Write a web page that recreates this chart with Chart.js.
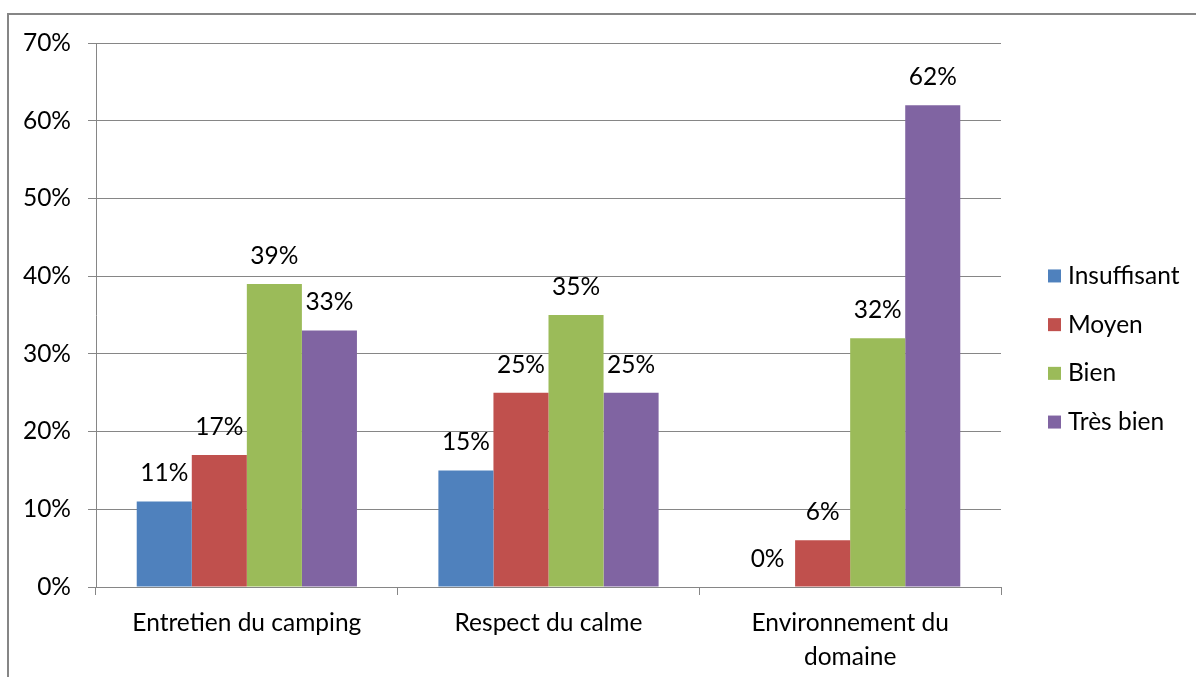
<!DOCTYPE html>
<html>
<head>
<meta charset="utf-8">
<script src="https://cdn.jsdelivr.net/npm/chart.js@4/dist/chart.umd.min.js"></script>
<style>
  html, body { margin: 0; padding: 0; background: #fff; }
  canvas { display: block; }
</style>
</head>
<body>
<canvas id="chart" width="1197" height="677"></canvas>
<script>
const categories = ["Entretien du camping", "Respect du calme", ["Environnement du", "domaine"]];
const series = ["Insuffisant", "Moyen", "Bien", "Très bien"];
const insuffisant = [11, 15, 0];
const moyen = [17, 25, 6];
const bien = [39, 35, 32];
const tresBien = [33, 25, 62];
const yTicks = [0, 10, 20, 30, 40, 50, 60, 70];

const colors = ["#4F81BD", "#C0504D", "#9BBB59", "#8064A2"];
const gray = "#868686";
const font = { family: "Lato, 'Noto Sans', sans-serif", size: 24.5 };

// frame around the chart (top + left edges visible)
const framePlugin = {
  id: "frame",
  beforeDraw(chart) {
    const ctx = chart.ctx;
    ctx.save();
    ctx.strokeStyle = gray;
    ctx.lineWidth = 2;
    ctx.beginPath();
    ctx.moveTo(8, 677);
    ctx.lineTo(8, 14);
    ctx.lineTo(1196, 14);
    ctx.stroke();
    ctx.restore();
  }
};

// value labels above each bar
const valueLabels = {
  id: "valueLabels",
  afterDatasetsDraw(chart) {
    const ctx = chart.ctx;
    ctx.save();
    ctx.font = font.size + "px " + font.family;
    ctx.fillStyle = "#000";
    ctx.textAlign = "center";
    ctx.textBaseline = "middle";
    chart.data.datasets.forEach((ds, i) => {
      chart.getDatasetMeta(i).data.forEach((bar, j) => {
        ctx.fillText(ds.data[j] + "%", bar.x, bar.y - 28);
      });
    });
    ctx.restore();
  }
};

// legend on the right, Excel style
const sideLegend = {
  id: "sideLegend",
  afterDraw(chart) {
    const ctx = chart.ctx;
    const step = 48.7;
    const midY = 349;
    ctx.save();
    ctx.font = font.size + "px " + font.family;
    ctx.textBaseline = "middle";
    ctx.textAlign = "left";
    chart.data.datasets.forEach((ds, i) => {
      const y = midY + (i - (chart.data.datasets.length - 1) / 2) * step;
      ctx.fillStyle = ds.backgroundColor;
      ctx.fillRect(1048, y - 6.5, 13, 13);
      ctx.fillStyle = "#000";
      ctx.fillText(ds.label, 1068, y);
    });
    ctx.restore();
  }
};

new Chart(document.getElementById("chart"), {
  type: "bar",
  data: {
    labels: categories,
    datasets: [
      { label: series[0], data: insuffisant, backgroundColor: colors[0] },
      { label: series[1], data: moyen, backgroundColor: colors[1] },
      { label: series[2], data: bien, backgroundColor: colors[2] },
      { label: series[3], data: tresBien, backgroundColor: colors[3] },
    ]
  },
  options: {
    responsive: false,
    animation: false,
    devicePixelRatio: 1,
    layout: { padding: { left: 0, top: 43, right: 196, bottom: 0 } },
    datasets: { bar: { categoryPercentage: 0.73, barPercentage: 1, borderWidth: 0 } },
    plugins: {
      legend: { display: false },
      tooltip: { enabled: false },
    },
    scales: {
      x: {
        grid: { drawOnChartArea: false, offset: true, color: gray, tickLength: 8, lineWidth: 1 },
        border: { color: gray, width: 1 },
        ticks: { color: "#000", font: { ...font, lineHeight: 1.35 }, padding: 12, maxRotation: 0 },
        afterFit: s => { s.height = 90; }
      },
      y: {
        min: 0,
        max: 70,
        afterBuildTicks: s => { s.ticks = yTicks.map(v => ({ value: v })); },
        grid: { color: gray, tickLength: 8, lineWidth: 1 },
        border: { color: gray, width: 1 },
        ticks: { color: "#000", font: font, padding: 17, callback: v => v + "%" },
        afterFit: s => { s.width = 96; }
      }
    }
  },
  plugins: [framePlugin, valueLabels, sideLegend]
});
</script>
</body>
</html>
